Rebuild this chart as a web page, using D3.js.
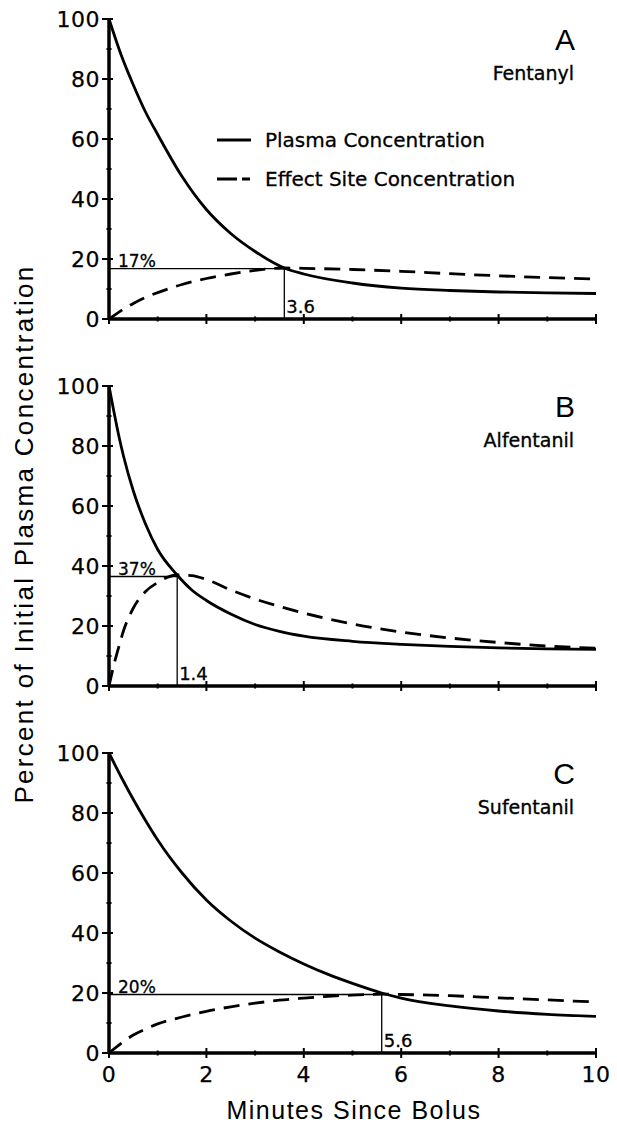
<!DOCTYPE html>
<html>
<head>
<meta charset="utf-8">
<script src="https://cdn.jsdelivr.net/npm/d3@7"></script>
<style>
  body { margin: 0; background: #fff; }
  svg { display: block; }
</style>
</head>
<body>
<script>
// values, percent of initial plasma concentration
var fentanylMin    = [0, 0.25, 0.5, 0.75, 1, 1.5, 2, 2.5, 3, 3.6, 4, 5, 6, 7, 8, 9, 10];
var fentanylPlasma = [100, 88, 78, 69, 61.5, 47.5, 36.5, 28.5, 22.5, 17, 15, 12, 10.3, 9.5, 9, 8.7, 8.5];
var fentanylEffect = [0, 2.8, 5.2, 7.2, 8.8, 11.5, 13.5, 15, 16.2, 17, 16.9, 16.5, 15.9, 15.1, 14.4, 13.8, 13.3];

var alfentanilMin    = [0, 0.1, 0.2, 0.3, 0.5, 0.75, 1, 1.4, 1.7, 2, 2.5, 3, 3.5, 4, 5, 6, 7, 8, 9, 10];
var alfentanilPlasma = [100, 91.5, 83.5, 76.5, 65, 54, 45.5, 37, 32, 28.5, 24, 20.5, 18.2, 16.6, 14.9, 13.9, 13.2, 12.7, 12.4, 12.2];
var alfentanilEffect = [0, 7, 13, 18.5, 26, 31.5, 34.5, 37, 36.8, 35.5, 32, 29, 26.5, 24.3, 20.7, 18, 16, 14.5, 13.3, 12.6];

var sufentanilMin    = [0, 0.25, 0.5, 0.75, 1, 1.5, 2, 2.5, 3, 3.5, 4, 4.5, 5, 5.6, 6, 7, 8, 9, 10];
var sufentanilPlasma = [100, 92, 84.5, 77.5, 71, 60, 51, 44, 38.3, 33.7, 29.7, 26.2, 23.2, 20, 18.3, 15.7, 14, 12.9, 12.2];
var sufentanilEffect = [0, 3.2, 6, 8, 9.7, 12, 13.9, 15.4, 16.6, 17.6, 18.3, 18.9, 19.3, 19.6, 19.5, 19.1, 18.4, 17.7, 17];

var panelLetters = ["A", "B", "C"];
var drugNames    = ["Fentanyl", "Alfentanil", "Sufentanil"];
var peakTimes    = [3.6, 1.4, 5.6];
var peakLevels   = [16.8, 36.5, 19.5];
var peakLabels   = ["17%", "37%", "20%"];
var timeLabels   = ["3.6", "1.4", "5.6"];

var yTicks = [0, 20, 40, 60, 80, 100];
var xTicks = [0, 2, 4, 6, 8, 10];
var legendLabels = ["Plasma Concentration", "Effect Site Concentration"];

var width = 617, height = 1135;
var panelTop = [19, 386, 753];
var panelH = 300;

var panels = [
  { t: fentanylMin, plasma: fentanylPlasma, effect: fentanylEffect },
  { t: alfentanilMin, plasma: alfentanilPlasma, effect: alfentanilEffect },
  { t: sufentanilMin, plasma: sufentanilPlasma, effect: sufentanilEffect }
];

var svg = d3.select("body").append("svg")
  .attr("width", width)
  .attr("height", height);

var x = d3.scaleLinear().domain([0, 10]).range([109, 596]);

var tickFont = "'DejaVu Sans', sans-serif";
var labelFont = "'Liberation Sans', Arial, sans-serif";

panels.forEach(function (p, i) {
  var y = d3.scaleLinear().domain([0, 100]).range([panelTop[i] + panelH, panelTop[i]]);
  var g = svg.append("g");

  var line = d3.line()
    .x(function (d) { return x(d[0]); })
    .y(function (d) { return y(d[1]); })
    .curve(d3.curveMonotoneX);

  // annotation guide lines
  g.append("line")
    .attr("x1", x(0)).attr("x2", x(peakTimes[i]))
    .attr("y1", y(peakLevels[i])).attr("y2", y(peakLevels[i]))
    .attr("stroke", "#000").attr("stroke-width", 1.3);
  g.append("line")
    .attr("x1", x(peakTimes[i])).attr("x2", x(peakTimes[i]))
    .attr("y1", y(0)).attr("y2", y(peakLevels[i]))
    .attr("stroke", "#000").attr("stroke-width", 1.3);

  // curves
  g.append("path")
    .datum(p.t.map(function (t, k) { return [t, p.effect[k]]; }))
    .attr("d", line)
    .attr("fill", "none")
    .attr("stroke", "#000")
    .attr("stroke-width", 2.8)
    .attr("stroke-dasharray", "16,9");

  g.append("path")
    .datum(p.t.map(function (t, k) { return [t, p.plasma[k]]; }))
    .attr("d", line)
    .attr("fill", "none")
    .attr("stroke", "#000")
    .attr("stroke-width", 2.8);

  // axes
  g.append("line")
    .attr("x1", x(0)).attr("x2", x(0))
    .attr("y1", y(0)).attr("y2", y(100))
    .attr("stroke", "#000").attr("stroke-width", 3.5);
  g.append("line")
    .attr("x1", x(0)).attr("x2", x(10))
    .attr("y1", y(0)).attr("y2", y(0))
    .attr("stroke", "#000").attr("stroke-width", 3.5);

  // y ticks: major every 20, small marks at 10s
  d3.range(0, 101, 10).forEach(function (v) {
    var major = v % 20 === 0;
    g.append("line")
      .attr("x1", x(0) - (major ? 7 : 2.5)).attr("x2", x(0) + (major ? 4 : 2.5))
      .attr("y1", y(v)).attr("y2", y(v))
      .attr("stroke", "#000").attr("stroke-width", 2);
  });
  // x ticks: major every 2, small marks at odd minutes
  d3.range(0, 11, 1).forEach(function (v) {
    var major = v % 2 === 0;
    g.append("line")
      .attr("x1", x(v)).attr("x2", x(v))
      .attr("y1", y(0) - (major ? 5 : 2.5)).attr("y2", y(0) + (major ? 5 : 2.5))
      .attr("stroke", "#000").attr("stroke-width", 2);
  });

  g.selectAll(".ylab")
    .data(yTicks)
    .enter().append("text")
    .attr("x", x(0) - 9)
    .attr("y", function (d) { return y(d); })
    .attr("dy", "0.36em")
    .attr("text-anchor", "end")
    .attr("font-family", tickFont)
    .attr("font-size", 22)
    .attr("letter-spacing", 0.5)
    .attr("stroke", "#000").attr("stroke-width", 0.25)
    .text(function (d) { return d; });

  if (i === 2) {
    g.selectAll(".xlab")
      .data(xTicks)
      .enter().append("text")
      .attr("x", function (d) { return x(d); })
      .attr("y", y(0) + 29)
      .attr("text-anchor", "middle")
      .attr("font-family", tickFont)
      .attr("font-size", 22)
      .attr("letter-spacing", 0.5)
      .attr("stroke", "#000").attr("stroke-width", 0.25)
      .text(function (d) { return d; });
  }

  // annotation labels
  g.append("text")
    .attr("x", x(0) + 9)
    .attr("y", y(peakLevels[i]) - 2)
    .attr("font-family", tickFont)
    .attr("font-size", 17)
    .attr("stroke", "#000").attr("stroke-width", 0.3)
    .text(peakLabels[i]);
  g.append("text")
    .attr("x", x(peakTimes[i]) + 2)
    .attr("y", y(0) - 6)
    .attr("font-family", tickFont)
    .attr("font-size", 18)
    .attr("stroke", "#000").attr("stroke-width", 0.3)
    .text(timeLabels[i]);

  // panel letter and drug name
  g.append("text")
    .attr("x", 575)
    .attr("y", panelTop[i] + 31)
    .attr("text-anchor", "end")
    .attr("font-family", labelFont)
    .attr("font-size", 30)
    .text(panelLetters[i]);
  g.append("text")
    .attr("x", 574)
    .attr("y", panelTop[i] + 61)
    .attr("text-anchor", "end")
    .attr("font-family", tickFont)
    .attr("font-size", 19)
    .attr("stroke", "#000").attr("stroke-width", 0.35)
    .text(drugNames[i]);
});

// legend (panel A)
var legend = svg.append("g");
legend.selectAll("line")
  .data(legendLabels)
  .enter().append("line")
  .attr("x1", 217).attr("x2", 251)
  .attr("y1", function (d, k) { return 140 + k * 39; })
  .attr("y2", function (d, k) { return 140 + k * 39; })
  .attr("stroke", "#000")
  .attr("stroke-width", 3)
  .attr("stroke-dasharray", function (d, k) { return k ? "20,5,8,20" : null; });
legend.selectAll("text")
  .data(legendLabels)
  .enter().append("text")
  .attr("x", 265)
  .attr("y", function (d, k) { return 140 + k * 39; })
  .attr("dy", "0.36em")
  .attr("font-family", tickFont)
  .attr("font-size", 20)
  .attr("stroke", "#000").attr("stroke-width", 0.3)
  .text(function (d) { return d; });

// axis titles
svg.append("text")
  .attr("transform", "translate(33,534) rotate(-90)")
  .attr("text-anchor", "middle")
  .attr("font-family", labelFont)
  .attr("font-size", 26)
  .attr("letter-spacing", 2.3)
  .text("Percent of Initial Plasma Concentration");

svg.append("text")
  .attr("x", 354)
  .attr("y", 1119)
  .attr("text-anchor", "middle")
  .attr("font-family", labelFont)
  .attr("font-size", 25)
  .attr("letter-spacing", 1.5)
  .text("Minutes Since Bolus");
</script>
</body>
</html>
